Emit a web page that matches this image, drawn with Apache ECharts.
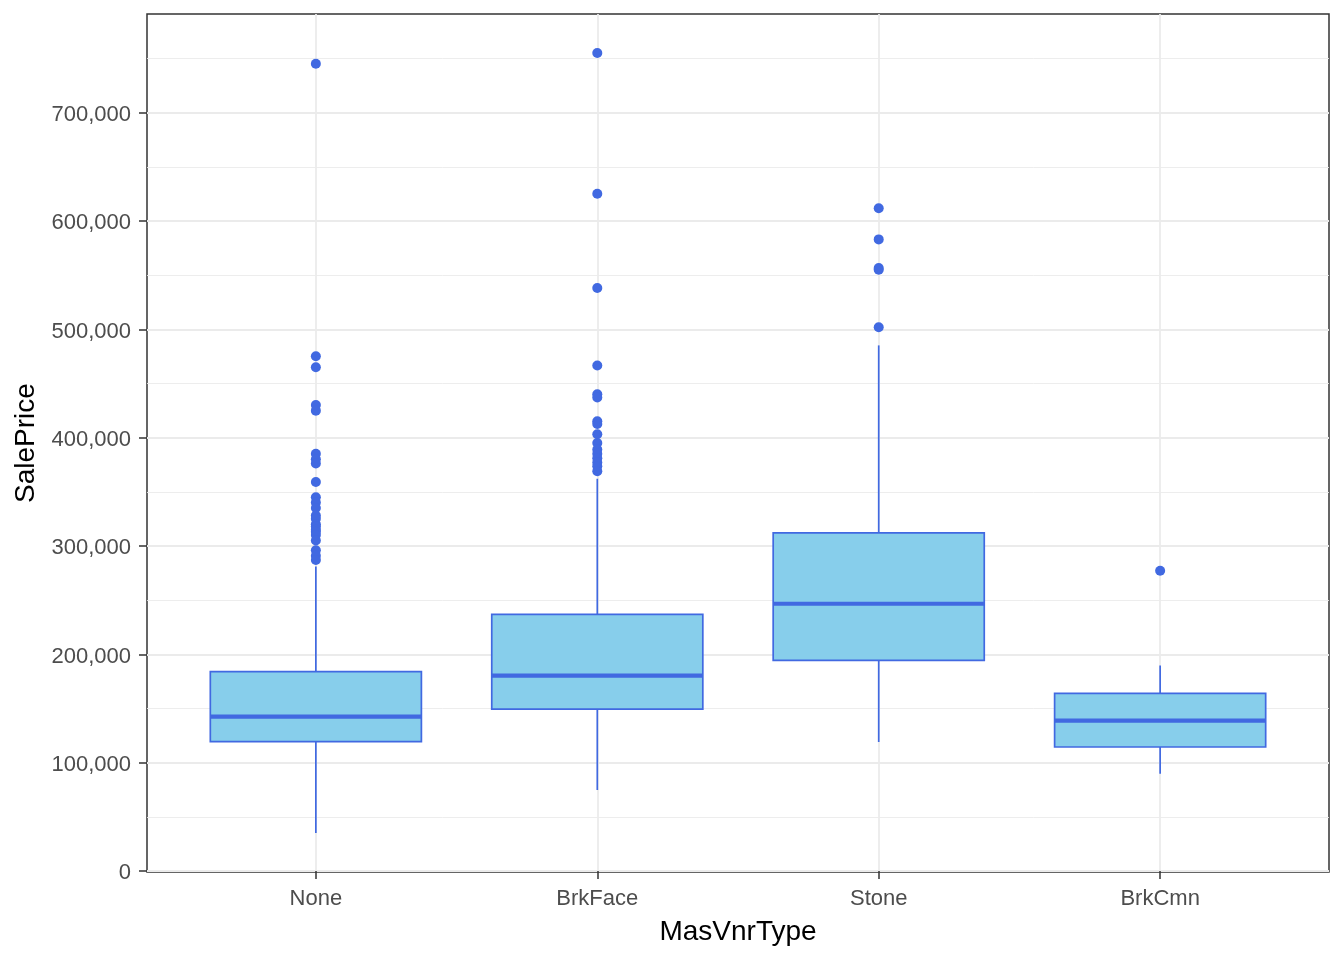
<!DOCTYPE html>
<html>
<head>
<meta charset="utf-8">
<script src="https://cdn.jsdelivr.net/npm/echarts@6/dist/echarts.min.js"></script>
<style>
  html, body { margin: 0; padding: 0; background: #ffffff; }
  #chart { width: 1344px; height: 960px; }
</style>
</head>
<body>
<div id="chart"></div>
<script>
// Categories (x positions 1..4)
const categories = ['None', 'BrkFace', 'Stone', 'BrkCmn'];

// Box statistics: [lower whisker, Q1, median, Q3, upper whisker]
const boxNone    = [35000, 119400, 142500, 183900, 281000];
const boxBrkFace = [74700, 149400, 180200, 236800, 362000];
const boxStone   = [119000, 194300, 246600, 312100, 485100];
const boxBrkCmn  = [89800, 114400, 138700, 163900, 189700];

// Outliers per category
const outNone = [745000, 475000, 465000, 430000, 424870, 385000, 380000, 376000, 359000,
  345000, 340000, 335000, 328000, 325000, 320000, 318000, 315000, 313000, 310000,
  305000, 296000, 291000, 287000];
const outBrkFace = [755000, 625000, 538000, 466500, 440000, 437000, 415000, 412500,
  403000, 395000, 389000, 385000, 381000, 377000, 373600, 369000];
const outStone = [611657, 582933, 556581, 555000, 501837];
const outBrkCmn = [277000];

// Tick values
const yMajorTicks = [0, 100000, 200000, 300000, 400000, 500000, 600000, 700000];
const yMinorTicks = [50000, 150000, 250000, 350000, 450000, 550000, 650000, 750000];
const xTicks = [1, 2, 3, 4];

const boxes = [boxNone, boxBrkFace, boxStone, boxBrkCmn];
const outs = [outNone, outBrkFace, outStone, outBrkCmn];

const boxData = boxes.map((b, i) => [i + 1].concat(b));
const outData = [];
outs.forEach((arr, i) => arr.forEach(v => outData.push([i + 1, v])));

// ggplot-like 5% expansion of y range
let lo = Infinity, hi = -Infinity;
boxes.forEach(b => { lo = Math.min(lo, b[0]); hi = Math.max(hi, b[4]); });
outs.forEach(a => a.forEach(v => { lo = Math.min(lo, v); hi = Math.max(hi, v); }));
const pad = 0.05 * (hi - lo);
const yMin = lo - pad, yMax = hi + pad;

const FONT = 'Liberation Sans, Arial, sans-serif';
const LINE = '#4169E1';
const FILL = '#87CEEB';
const GRID = '#EBEBEB';

const chart = echarts.init(document.getElementById('chart'), null, { renderer: 'canvas' });

chart.setOption({
  animation: false,
  backgroundColor: '#ffffff',
  grid: {
    left: 147, right: 15, top: 14, bottom: 88,
    show: true, borderColor: '#333333', borderWidth: 1.5, backgroundColor: 'transparent'
  },
  xAxis: {
    type: 'value', min: 0.4, max: 4.6,
    name: 'MasVnrType', nameLocation: 'middle', nameGap: 46,
    nameTextStyle: { fontFamily: FONT, fontSize: 28, color: '#000000' },
    axisLine: { show: false },
    axisTick: { show: true, length: 8, customValues: xTicks, lineStyle: { color: '#333333', width: 1.5 } },
    axisLabel: {
      customValues: xTicks, margin: 16,
      fontFamily: FONT, fontSize: 22, color: '#4D4D4D',
      formatter: v => categories[Math.round(v) - 1]
    },
    splitLine: { show: true, lineStyle: { color: GRID, width: 1.8 } }
  },
  yAxis: [{
    type: 'value', min: yMin, max: yMax,
    name: 'SalePrice', nameLocation: 'middle', nameGap: 107,
    nameTextStyle: { fontFamily: FONT, fontSize: 28, color: '#000000' },
    axisLine: { show: false },
    axisTick: { show: true, length: 8, customValues: yMajorTicks, lineStyle: { color: '#333333', width: 1.5 } },
    axisLabel: {
      customValues: yMajorTicks, margin: 16,
      fontFamily: FONT, fontSize: 22, color: '#4D4D4D',
      formatter: v => '{t|' + Math.round(v).toLocaleString('en-US') + '}',
      rich: { t: { fontFamily: FONT, fontSize: 22, color: '#4D4D4D', padding: [5, 0, 0, 0] } }
    },
    splitLine: { show: true, lineStyle: { color: GRID, width: 1.8 } }
  }, {
    type: 'value', min: yMin, max: yMax, position: 'left',
    axisLine: { show: false },
    axisTick: { show: false, customValues: yMinorTicks },
    axisLabel: { show: false, customValues: yMinorTicks },
    splitLine: { show: true, lineStyle: { color: GRID, width: 0.9 } }
  }],
  series: [{
    type: 'custom',
    z: 3,
    data: boxData,
    encode: { x: 0, y: [1, 2, 3, 4, 5] },
    renderItem: function (params, api) {
      const x = api.value(0);
      const half = 0.375;
      const pLow = api.coord([x, api.value(1)]);
      const pQ1 = api.coord([x, api.value(2)]);
      const pMed = api.coord([x, api.value(3)]);
      const pQ3 = api.coord([x, api.value(4)]);
      const pHigh = api.coord([x, api.value(5)]);
      const left = api.coord([x - half, api.value(3)])[0];
      const right = api.coord([x + half, api.value(3)])[0];
      return {
        type: 'group',
        children: [
          { type: 'line', shape: { x1: pHigh[0], y1: pHigh[1], x2: pQ3[0], y2: pQ3[1] },
            style: { stroke: LINE, lineWidth: 1.7 } },
          { type: 'line', shape: { x1: pQ1[0], y1: pQ1[1], x2: pLow[0], y2: pLow[1] },
            style: { stroke: LINE, lineWidth: 1.7 } },
          { type: 'rect', shape: { x: left, y: pQ3[1], width: right - left, height: pQ1[1] - pQ3[1] },
            style: { fill: FILL, stroke: LINE, lineWidth: 1.7 } },
          { type: 'line', shape: { x1: left, y1: pMed[1], x2: right, y2: pMed[1] },
            style: { stroke: LINE, lineWidth: 4.2 } }
        ]
      };
    }
  }, {
    type: 'scatter',
    z: 4,
    data: outData,
    symbol: 'circle',
    symbolSize: 10,
    itemStyle: { color: LINE, opacity: 1 }
  }]
});
</script>
</body>
</html>
